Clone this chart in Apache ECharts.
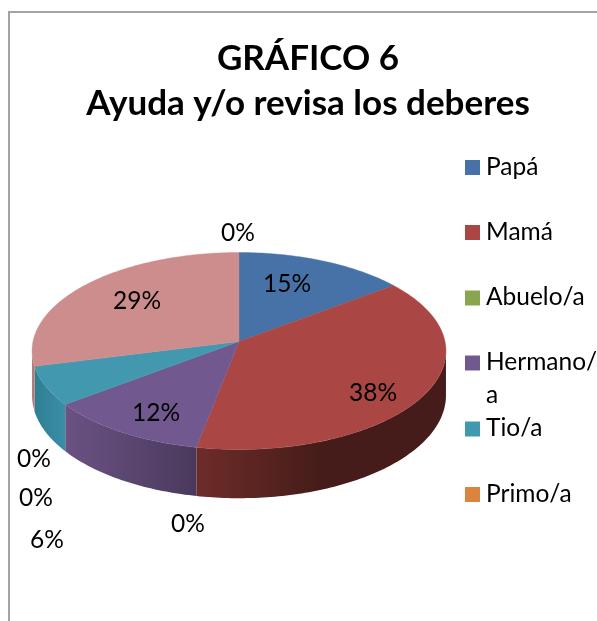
<!DOCTYPE html>
<html>
<head>
<meta charset="utf-8">
<style>html,body{margin:0;padding:0;background:#fff}#c{width:597px;height:621px}</style>
<script src="https://cdn.jsdelivr.net/npm/echarts@6/dist/echarts.min.js"></script>
</head>
<body>
<div id="c"></div>
<script>
var titleText = 'GRÁFICO 6\nAyuda y/o revisa los deberes';
var categories = ['Papá','Mamá','Abuelo/a','Hermano/a','Tio/a','Primo/a','Otro 1','Otro 2','Otro 3'];
var values = [14.6, 38.4, 0, 11.6, 6.4, 0, 0, 29, 0];
var legendLabels = ['Papá','Mamá','Abuelo/a','Hermano/\na','Tio/a','Primo/a'];
var topColors = ['#4672A8','#AA4643','#89A54E','#71588F','#4198AF','#DB843D','#3A5F8B','#CD8D8C','#A5B592'];
var wallColors = [
  ['#34557d','#34557d'],['#6e2c29','#451c19'],['#5e7235','#5e7235'],['#6a5283','#4a395c'],
  ['#2f7f93','#3a8ea6'],['#a05f28','#a05f28'],['#2b476a','#2b476a'],['#b27978','#b27978'],['#7d8a6c','#7d8a6c']
];
var wallGradientEnd = [1,0.5,1,1,1,1,1,1,1];
var labelCenters = [[287,284],[373,393],[188,524],[156,413],[47,540],[34,459],[36,498],[137,301],[238,233]];
var legendRows = [167.5,232.5,298,363,429,494.5];

var total = values.reduce(function(a,b){return a+b;},0);
var cx=239, cy=341.5, A=206, B=97.6, K=0.0964, DEPTH=44;
var VIS0=95.5, VIS1=264.5;
function project(deg, z){
  var t=deg*Math.PI/180, w=1+K*Math.cos(t);
  return [cx+A*Math.sin(t)/w, cy-B*Math.cos(t)/w+z*DEPTH/w];
}
function arc(a0,a1,z){
  var pts=[], n=Math.max(2,Math.ceil(Math.abs(a1-a0)));
  for(var i=0;i<=n;i++) pts.push(project(a0+(a1-a0)*i/n,z));
  return pts;
}
function startDeg(idx){
  var s=0; for(var i=0;i<idx;i++) s+=values[i];
  return s/total*360;
}
function renderItem(params, api){
  var idx=params.dataIndex, v=api.value(1);
  var a0=startDeg(idx), a1=a0+v/total*360;
  var children=[];
  if(v>0){
    var w0=Math.max(a0,VIS0), w1=Math.min(a1,VIS1);
    if(w1>w0){
      var wall=arc(w0,w1,0).concat(arc(w1,w0,1));
      children.push({type:'polygon',shape:{points:wall},style:{
        fill:new echarts.graphic.LinearGradient(0,0,1,0,[
          {offset:0,color:wallColors[idx][0]},
          {offset:wallGradientEnd[idx],color:wallColors[idx][1]},
          {offset:1,color:wallColors[idx][1]}])
      }});
    }
    children.push({type:'polygon',shape:{points:[[cx,cy]].concat(arc(a0,a1,0))},
      style:{fill:topColors[idx],stroke:topColors[idx],lineWidth:0.4}});
  }
  children.push({type:'text',z2:10,style:{
    text:Math.round(v/total*100)+'%',x:labelCenters[idx][0],y:labelCenters[idx][1],
    align:'center',verticalAlign:'middle',fill:'#000',
    font:'24.5px Lato, "Open Sans", sans-serif'}});
  return {type:'group',children:children};
}
var graphicEls=[{type:'rect',silent:true,z:0,shape:{x:9,y:12,width:800,height:800},
  style:{fill:'#fff',stroke:'#a3a3a3',lineWidth:2}}];
legendLabels.forEach(function(t,i){
  graphicEls.push({type:'rect',z:5,shape:{x:465,y:legendRows[i]-7.5,width:15,height:15},style:{fill:topColors[i]}});
  graphicEls.push({type:'text',z:5,style:{text:t,x:486,y:legendRows[i]-17,lineHeight:33,
    verticalAlign:'top',fill:'#000',font:'24.5px Lato, "Open Sans", sans-serif'}});
});
var chart=echarts.init(document.getElementById('c'),null,{renderer:'canvas'});
chart.setOption({
  animation:false,
  backgroundColor:'#fff',
  title:{text:titleText,left:303,top:31,textAlign:'center',
    textStyle:{fontFamily:'Lato, "Open Sans", sans-serif',fontWeight:'bold',fontSize:35,lineHeight:45,color:'#000'}},
  graphic:graphicEls,
  series:[{type:'custom',coordinateSystem:'none',renderItem:renderItem,z:3,
    data:categories.map(function(c,i){return {name:c,value:[i,values[i]]};})}]
});
</script>
</body>
</html>
